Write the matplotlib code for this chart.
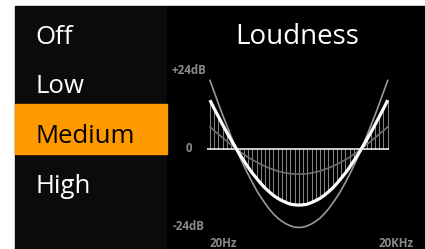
import matplotlib
matplotlib.use("Agg")
import matplotlib.pyplot as plt
import matplotlib.patches as mpatches

# menu entries and which one is selected
menu_items = ["Off", "Low", "Medium", "High"]
selected = "Medium"

# dB axis labels and frequency labels
db_labels = ["+24dB", "0", "-24dB"]
db_values = [24, 0, -24]
freq_labels = ["20Hz", "20KHz"]

# loudness curves, 43 frequency bands
band = list(range(43))
curve_medium = [15.0, 12.4, 9.9, 7.4, 5.0, 2.7, 0.5, -1.7, -3.7, -5.7, -7.5,
                -9.1, -10.7, -12.1, -13.3, -14.4, -15.3, -16.0, -16.6, -17.1,
                -17.3, -17.4, -17.3, -17.1, -16.6, -16.0, -15.3, -14.4, -13.3,
                -12.1, -10.7, -9.1, -7.5, -5.7, -3.7, -1.7, 0.5, 2.7, 5.0, 7.4,
                9.9, 12.4, 15.0]
curve_high = [21.1, 17.5, 13.9, 10.4, 7.1, 3.8, 0.6, -2.4, -5.2, -7.9, -10.4,
              -12.8, -14.9, -16.8, -18.6, -20.1, -21.4, -22.4, -23.2, -23.8,
              -24.2, -24.3, -24.2, -23.8, -23.2, -22.4, -21.4, -20.1, -18.6,
              -16.8, -14.9, -12.8, -10.4, -7.9, -5.2, -2.4, 0.6, 3.8, 7.1, 10.4,
              13.9, 17.5, 21.1]
curve_low = [6.8, 5.6, 4.5, 3.4, 2.3, 1.2, 0.2, -0.8, -1.7, -2.6, -3.4, -4.1,
             -4.8, -5.4, -6.0, -6.4, -6.9, -7.2, -7.5, -7.7, -7.8, -7.8, -7.8,
             -7.7, -7.5, -7.2, -6.9, -6.4, -6.0, -5.4, -4.8, -4.1, -3.4, -2.6,
             -1.7, -0.8, 0.2, 1.2, 2.3, 3.4, 4.5, 5.6, 6.8]

W, H = 425, 249


def fx(px):
    return px / W


def fy(py):
    return 1 - py / H


fig = plt.figure(figsize=(W / 100, H / 100), dpi=100, facecolor="white")

# panels
fig.patches.append(mpatches.Rectangle((fx(15), 0), fx(167) - fx(15), fy(6),
                                      transform=fig.transFigure, color="#0b0b0b", zorder=-2))
fig.patches.append(mpatches.Rectangle((fx(167), 0), 1 - fx(167), fy(6),
                                      transform=fig.transFigure, color="#000000", zorder=-2))

# menu
baselines = [44, 93, 143, 193]
for item, base in zip(menu_items, baselines):
    color = "white"
    if item == selected:
        fig.patches.append(mpatches.Rectangle((fx(15), fy(154)), fx(167) - fx(15), fy(104) - fy(154),
                                              transform=fig.transFigure, color="#ff9900", zorder=-1))
        color = "black"
    fig.text(fx(35), fy(base), item, color=color, fontsize=18.5, family="Open Sans",
             va="baseline", ha="left", zorder=2)

fig.text(fx(297), fy(44), "Loudness", color="white", fontsize=20, family="Open Sans",
         va="baseline", ha="center")

# chart area
ax = fig.add_axes([fx(207), fy(226.5), fx(389) - fx(207), fy(71) - fy(226.5)])
ax.set_zorder(3)
ax.set_xlim(-0.7, 42.3)
ax.set_ylim(-24, 24)
ax.axis("off")

ax.vlines(band, 0, curve_medium, color="#b8b8b8", linewidth=0.6, alpha=0.85)
ax.axhline(0, color="white", linewidth=1.1)
ax.plot(band, curve_low, color="#6e6e6e", linewidth=1.2, clip_on=False)
ax.plot(band, curve_high, color="#9a9a9a", linewidth=1.2, clip_on=False)
ax.plot(band, curve_medium, color="white", linewidth=2.3, clip_on=False,
        solid_capstyle="butt")

for lab, val in zip(db_labels, db_values):
    ax.text(-5.0, val, lab, color="#8a8a8a", fontsize=8.3, fontweight="bold",
            ha="center", va="center", family="Open Sans")

fig.text(fx(210), fy(247), freq_labels[0], color="#8a8a8a", fontsize=8.3,
         fontweight="bold", ha="left", va="baseline", family="Open Sans")
fig.text(fx(414), fy(247), freq_labels[1], color="#8a8a8a", fontsize=8.3,
         fontweight="bold", ha="right", va="baseline", family="Open Sans")

fig.savefig("out.png", dpi=100, facecolor="white")
